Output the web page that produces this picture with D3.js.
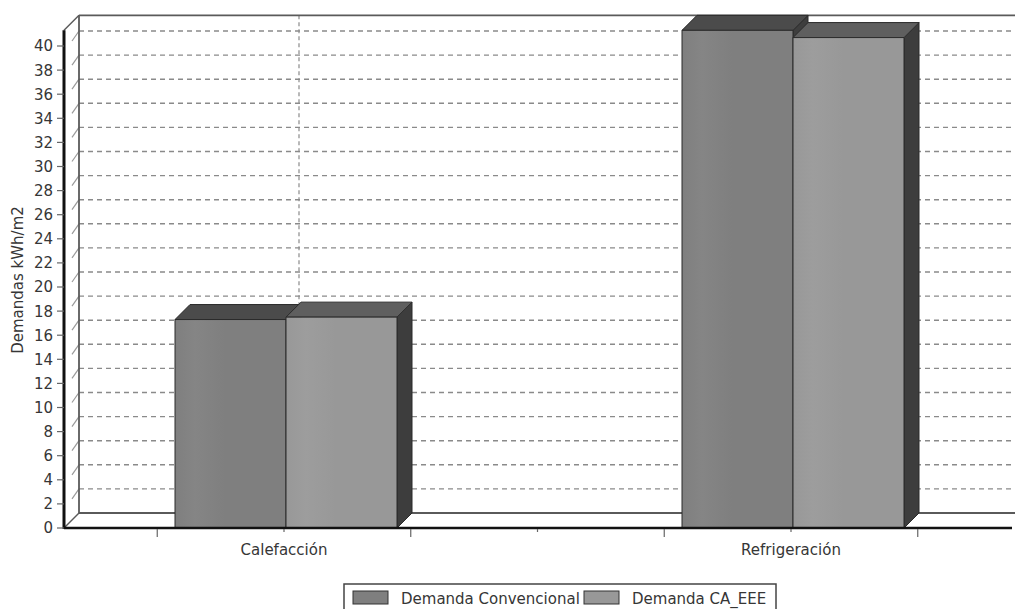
<!DOCTYPE html>
<html>
<head>
<meta charset="utf-8">
<script src="https://cdn.jsdelivr.net/npm/d3@7"></script>
<style>
  html, body { margin: 0; padding: 0; background: #fff; }
  svg { display: block; }
  text { font-family: "DejaVu Sans", Verdana, sans-serif; fill: #363636; }
</style>
</head>
<body>
<svg id="chart" width="1015" height="609"></svg>
<script>
// ---- data ----
const categories = ["Calefacción", "Refrigeración"];
const seriesNames = ["Demanda Convencional", "Demanda CA_EEE"];
const convencional = [17.3, 41.3];
const caEee = [17.5, 40.7];
const yTickValues = d3.range(0, 41, 2);
const yTitle = "Demandas kWh/m2";
const yMax = 41.3;

// ---- layout ----
const W = 1015, H = 609;
const depth = 15;                 // 3D offset (right, up)
const frontLeft = 64, frontRight = 1012;
const floorY = 528;
const pxPerUnit = 12.05;

const svg = d3.select("#chart");

const y = d3.scaleLinear()
  .domain([0, yMax])
  .range([floorY, floorY - yMax * pxPerUnit]);

const x = d3.scaleBand()
  .domain(categories)
  .range([30.5, 1044.5])
  .padding(0);

const inner = d3.scaleBand()
  .domain(seriesNames)
  .range([-109, 113])
  .padding(0);

const palette = {
  "Demanda Convencional": { front: "#7f7f7f", frontHi: "#858585", top: "#4b4b4b", side: "#3e3e3e" },
  "Demanda CA_EEE":       { front: "#989898", frontHi: "#9d9d9d", top: "#5f5f5f", side: "#3d3d3d" }
};

const defs = svg.append("defs");
seriesNames.forEach((s, i) => {
  const g = defs.append("linearGradient").attr("id", "grad" + i)
    .attr("x1", "0%").attr("x2", "100%").attr("y1", "0%").attr("y2", "0%");
  g.append("stop").attr("offset", "0%").attr("stop-color", palette[s].front);
  g.append("stop").attr("offset", "18%").attr("stop-color", palette[s].frontHi);
  g.append("stop").attr("offset", "45%").attr("stop-color", palette[s].front);
  g.append("stop").attr("offset", "100%").attr("stop-color", palette[s].front);
});

const wallTop = y(yMax) - depth;
const backLeft = frontLeft + depth;
const backFloor = floorY - depth;

// ---- walls ----
const walls = svg.append("g");
// horizontal dashed gridlines on back wall and left wall
yTickValues.filter(v => v > 0).forEach(v => {
  const yy = y(v);
  walls.append("line")
    .attr("x1", backLeft).attr("x2", W)
    .attr("y1", yy - depth).attr("y2", yy - depth)
    .attr("stroke", "#8a8a8a").attr("stroke-width", 1.4)
    .attr("stroke-dasharray", "5,4");
  walls.append("line")
    .attr("x1", frontLeft + 8).attr("y1", yy - 5)
    .attr("x2", backLeft).attr("y2", yy - depth)
    .attr("stroke", "#9a9a9a").attr("stroke-width", 1.2);
});
// vertical dashed gridlines at category centres
categories.forEach(c => {
  const cx = x(c) + x.bandwidth() / 2 + depth;
  walls.append("line")
    .attr("x1", cx).attr("x2", cx)
    .attr("y1", wallTop).attr("y2", backFloor)
    .attr("stroke", "#8a8a8a").attr("stroke-width", 1.2)
    .attr("stroke-dasharray", "4,3");
});
// wall borders
walls.append("line").attr("x1", backLeft).attr("x2", W)
  .attr("y1", wallTop).attr("y2", wallTop)
  .attr("stroke", "#5a5a5a").attr("stroke-width", 1.8);
walls.append("line").attr("x1", backLeft).attr("x2", backLeft)
  .attr("y1", wallTop).attr("y2", backFloor)
  .attr("stroke", "#5a5a5a").attr("stroke-width", 1.8);
walls.append("line").attr("x1", frontLeft).attr("y1", y(yMax))
  .attr("x2", backLeft).attr("y2", wallTop)
  .attr("stroke", "#5a5a5a").attr("stroke-width", 1.5);
// floor
walls.append("line").attr("x1", backLeft).attr("x2", W)
  .attr("y1", backFloor).attr("y2", backFloor)
  .attr("stroke", "#5a5a5a").attr("stroke-width", 1.8);
walls.append("line").attr("x1", frontLeft).attr("y1", floorY)
  .attr("x2", backLeft).attr("y2", backFloor)
  .attr("stroke", "#5a5a5a").attr("stroke-width", 1.5);

// ---- bars ----
const rows = [];
categories.forEach((c, ci) => {
  [convencional, caEee].forEach((arr, si) => {
    rows.push({ cat: c, series: seriesNames[si], si, value: arr[ci] });
  });
});

const bars = svg.append("g");
rows.forEach(d => {
  const cx = x(d.cat) + x.bandwidth() / 2;
  const x0 = cx + inner(d.series);
  const x1 = x0 + inner.bandwidth();
  const yt = y(d.value);
  const pal = palette[d.series];
  const g = bars.append("g").attr("stroke", "#2b2b2b").attr("stroke-width", 1).attr("stroke-linejoin", "round");
  // side face
  g.append("path")
    .attr("d", `M${x1},${yt} L${x1 + depth},${yt - depth} L${x1 + depth},${floorY - depth} L${x1},${floorY} Z`)
    .attr("fill", pal.side);
  // top face
  g.append("path")
    .attr("d", `M${x0},${yt} L${x0 + depth},${yt - depth} L${x1 + depth},${yt - depth} L${x1},${yt} Z`)
    .attr("fill", pal.top);
  // front face
  g.append("rect")
    .attr("x", x0).attr("y", yt)
    .attr("width", x1 - x0).attr("height", floorY - yt)
    .attr("fill", `url(#grad${d.si})`);
});

// ---- floor front edge ----
svg.append("line").attr("x1", frontLeft).attr("x2", frontRight)
  .attr("y1", floorY).attr("y2", floorY)
  .attr("stroke", "#111").attr("stroke-width", 2.5);

// ---- y axis ----
const yAxis = svg.append("g");
yAxis.append("line").attr("x1", frontLeft).attr("x2", frontLeft)
  .attr("y1", y(yMax)).attr("y2", floorY + 1)
  .attr("stroke", "#111").attr("stroke-width", 3);
yAxis.selectAll("line.tick").data(yTickValues).join("line")
  .attr("class", "tick")
  .attr("x1", frontLeft - 7).attr("x2", frontLeft)
  .attr("y1", d => y(d)).attr("y2", d => y(d))
  .attr("stroke", "#666").attr("stroke-width", 1.2);
yAxis.selectAll("text").data(yTickValues).join("text")
  .attr("x", 53).attr("y", d => y(d))
  .attr("dy", "0.36em")
  .attr("text-anchor", "end")
  .style("font-size", "15px")
  .text(d => d);
svg.append("text")
  .attr("transform", `translate(23,${280}) rotate(-90)`)
  .attr("text-anchor", "middle")
  .style("font-size", "15px")
  .text(yTitle);

// ---- x axis ----
const xAxis = svg.append("g");
const quarter = x.bandwidth() / 4;
const tickPos = d3.range(0, 9).map(k => 30.5 + k * quarter)
  .filter(p => p > frontLeft && p < frontRight);
xAxis.selectAll("line").data(tickPos).join("line")
  .attr("x1", d => d).attr("x2", d => d)
  .attr("y1", floorY + 1)
  .attr("y2", d => (Math.abs(((d - 30.5) / quarter) % 2 - 1) < 0.01) ? floorY + 9 : floorY + 4)
  .attr("stroke", "#666").attr("stroke-width", 1.2);
xAxis.selectAll("text").data(categories).join("text")
  .attr("x", c => x(c) + x.bandwidth() / 2)
  .attr("y", 555)
  .attr("text-anchor", "middle")
  .style("font-size", "15px")
  .text(c => c);

// ---- legend ----
const legend = svg.append("g");
legend.append("rect")
  .attr("x", 344).attr("y", 584).attr("width", 432).attr("height", 40)
  .attr("fill", "#fff").attr("stroke", "#444").attr("stroke-width", 1.5);
const legendX = [353, 584];
seriesNames.forEach((s, i) => {
  legend.append("rect")
    .attr("x", legendX[i]).attr("y", 591).attr("width", 35).attr("height", 13)
    .attr("fill", palette[s].front).attr("stroke", "#333").attr("stroke-width", 1);
  legend.append("text")
    .attr("x", legendX[i] + 48).attr("y", 603.5)
    .style("font-size", "15px")
    .text(s);
});
</script>
</body>
</html>
